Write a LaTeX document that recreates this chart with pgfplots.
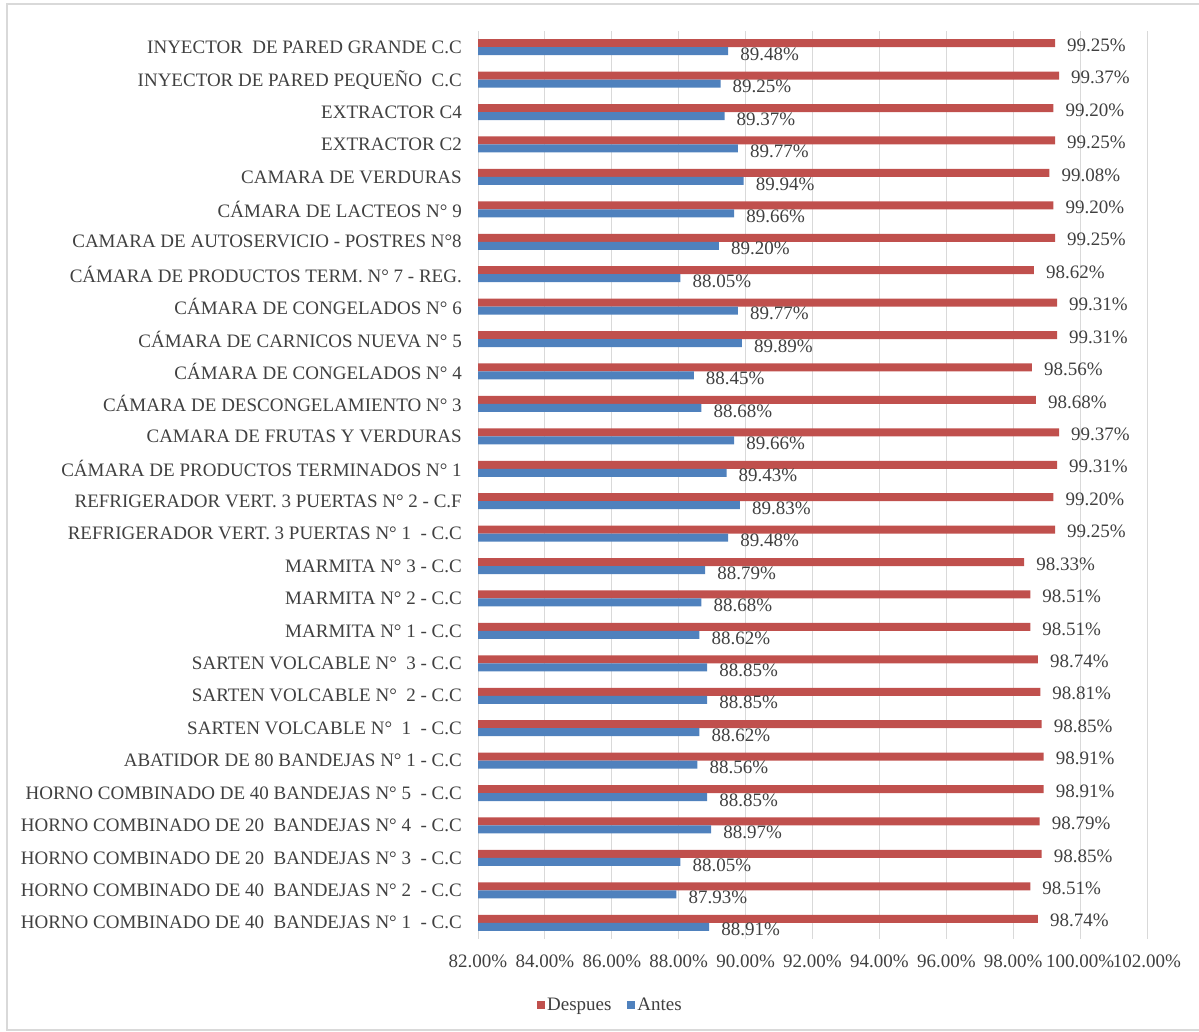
\documentclass[border=0pt]{standalone}
\usepackage{pgfplots}
\usepackage{pgfplotstable}
\pgfplotsset{compat=1.18}
\usepackage{fontspec}
\setmainfont{Liberation Serif}

\definecolor{despues}{HTML}{C0504D}
\definecolor{antes}{HTML}{4F81BD}
\definecolor{txt}{HTML}{404040}
\definecolor{gridc}{HTML}{D9D9D9}

\newcommand{\lblfont}{\fontsize{19}{22}\selectfont}

% pos: category position (0 = bottom row), values in percent
\pgfplotstableread{
pos despues antes
27 99.25 89.48
26 99.37 89.25
25 99.20 89.37
24 99.25 89.77
23 99.08 89.94
22 99.20 89.66
21 99.25 89.20
20 98.62 88.05
19 99.31 89.77
18 99.31 89.89
17 98.56 88.45
16 98.68 88.68
15 99.37 89.66
14 99.31 89.43
13 99.20 89.83
12 99.25 89.48
11 98.33 88.79
10 98.51 88.68
9  98.51 88.62
8  98.74 88.85
7  98.81 88.85
6  98.85 88.62
5  98.91 88.56
4  98.91 88.85
3  98.79 88.97
2  98.85 88.05
1  98.51 87.93
0  98.74 88.91
}\datatable

\begin{document}
\begin{tikzpicture}
\useasboundingbox (0pt,0pt) rectangle (1199pt,1032pt);
\draw[gridc, line width=1.5pt] (7pt,2pt) rectangle (1210pt,1028pt);
\begin{axis}[
  at={(478pt,93pt)}, anchor=south west,
  scale only axis, width=669pt, height=908pt,
  xmin=82, xmax=102, ymin=-0.5, ymax=27.5,
  xtick={82,84,...,102},
  xticklabel={\pgfmathprintnumber[fixed,fixed zerofill,precision=2]{\tick}\%},
  /pgf/number format/assume math mode=true,
  xmajorgrids, grid style={gridc, line width=1pt},
  axis line style={draw=none},
  major tick length=0pt,
  ytick={0,...,27},
  yticklabels={
    {HORNO COMBINADO DE 40~ BANDEJAS N° 1~ - C.C},
    {HORNO COMBINADO DE 40~ BANDEJAS N° 2~ - C.C},
    {HORNO COMBINADO DE 20~ BANDEJAS N° 3~ - C.C},
    {HORNO COMBINADO DE 20~ BANDEJAS N° 4~ - C.C},
    {HORNO COMBINADO DE 40 BANDEJAS N° 5~ - C.C},
    {ABATIDOR DE 80 BANDEJAS N° 1 - C.C},
    {SARTEN VOLCABLE N°~ 1~ - C.C},
    {SARTEN VOLCABLE N°~ 2 - C.C},
    {SARTEN VOLCABLE N°~ 3 - C.C},
    {MARMITA N° 1 - C.C},
    {MARMITA N° 2 - C.C},
    {MARMITA N° 3 - C.C},
    {REFRIGERADOR VERT. 3 PUERTAS N° 1~ - C.C},
    {REFRIGERADOR VERT. 3 PUERTAS N° 2 - C.F},
    {CÁMARA DE PRODUCTOS TERMINADOS N° 1},
    {CAMARA DE FRUTAS Y VERDURAS~},
    {CÁMARA DE DESCONGELAMIENTO N° 3},
    {CÁMARA DE CONGELADOS N° 4},
    {CÁMARA DE CARNICOS NUEVA N° 5},
    {CÁMARA DE CONGELADOS N° 6},
    {CÁMARA DE PRODUCTOS TERM. N° 7 - REG.},
    {CAMARA DE AUTOSERVICIO - POSTRES N°8},
    {CÁMARA DE LACTEOS N° 9},
    {CAMARA DE VERDURAS~},
    {EXTRACTOR C2},
    {EXTRACTOR C4},
    {INYECTOR DE PARED PEQUEÑO~ C.C},
    {INYECTOR~ DE PARED GRANDE C.C}
  },
  yticklabel style={font=\lblfont, text=txt, anchor=east, inner sep=0pt, xshift=-16pt},
  xticklabel style={font=\lblfont, text=txt, anchor=north, inner sep=0pt, yshift=-16pt},
  nodes near coords={\pgfmathprintnumber[fixed,fixed zerofill,precision=2]{\pgfplotspointmeta}\%},
  every node near coord/.append style={anchor=west, inner sep=0pt, xshift=12pt, font=\lblfont, text=txt},
  legend columns=2,
  legend style={at={(0.198,-0.0727)}, anchor=center, draw=none, font=\lblfont, text=txt,
    /tikz/every even column/.append style={column sep=14pt},
    nodes={inner sep=2pt}},
  legend image code/.code={\fill[#1] (0pt,-4pt) rectangle (8pt,4pt);},
]
\addplot[xbar, fill=despues, draw=none, bar width=8pt, bar shift=4pt, point meta=x,
  every node near coord/.append style={yshift=2pt}]
  table[x=despues, y=pos] {\datatable};
\addlegendentry{Despues}
\addplot[xbar, fill=antes, draw=none, bar width=8pt, bar shift=-4pt, point meta=x,
  every node near coord/.append style={yshift=-7pt}]
  table[x=antes, y=pos] {\datatable};
\addlegendentry{Antes}
\end{axis}
\end{tikzpicture}
\end{document}
